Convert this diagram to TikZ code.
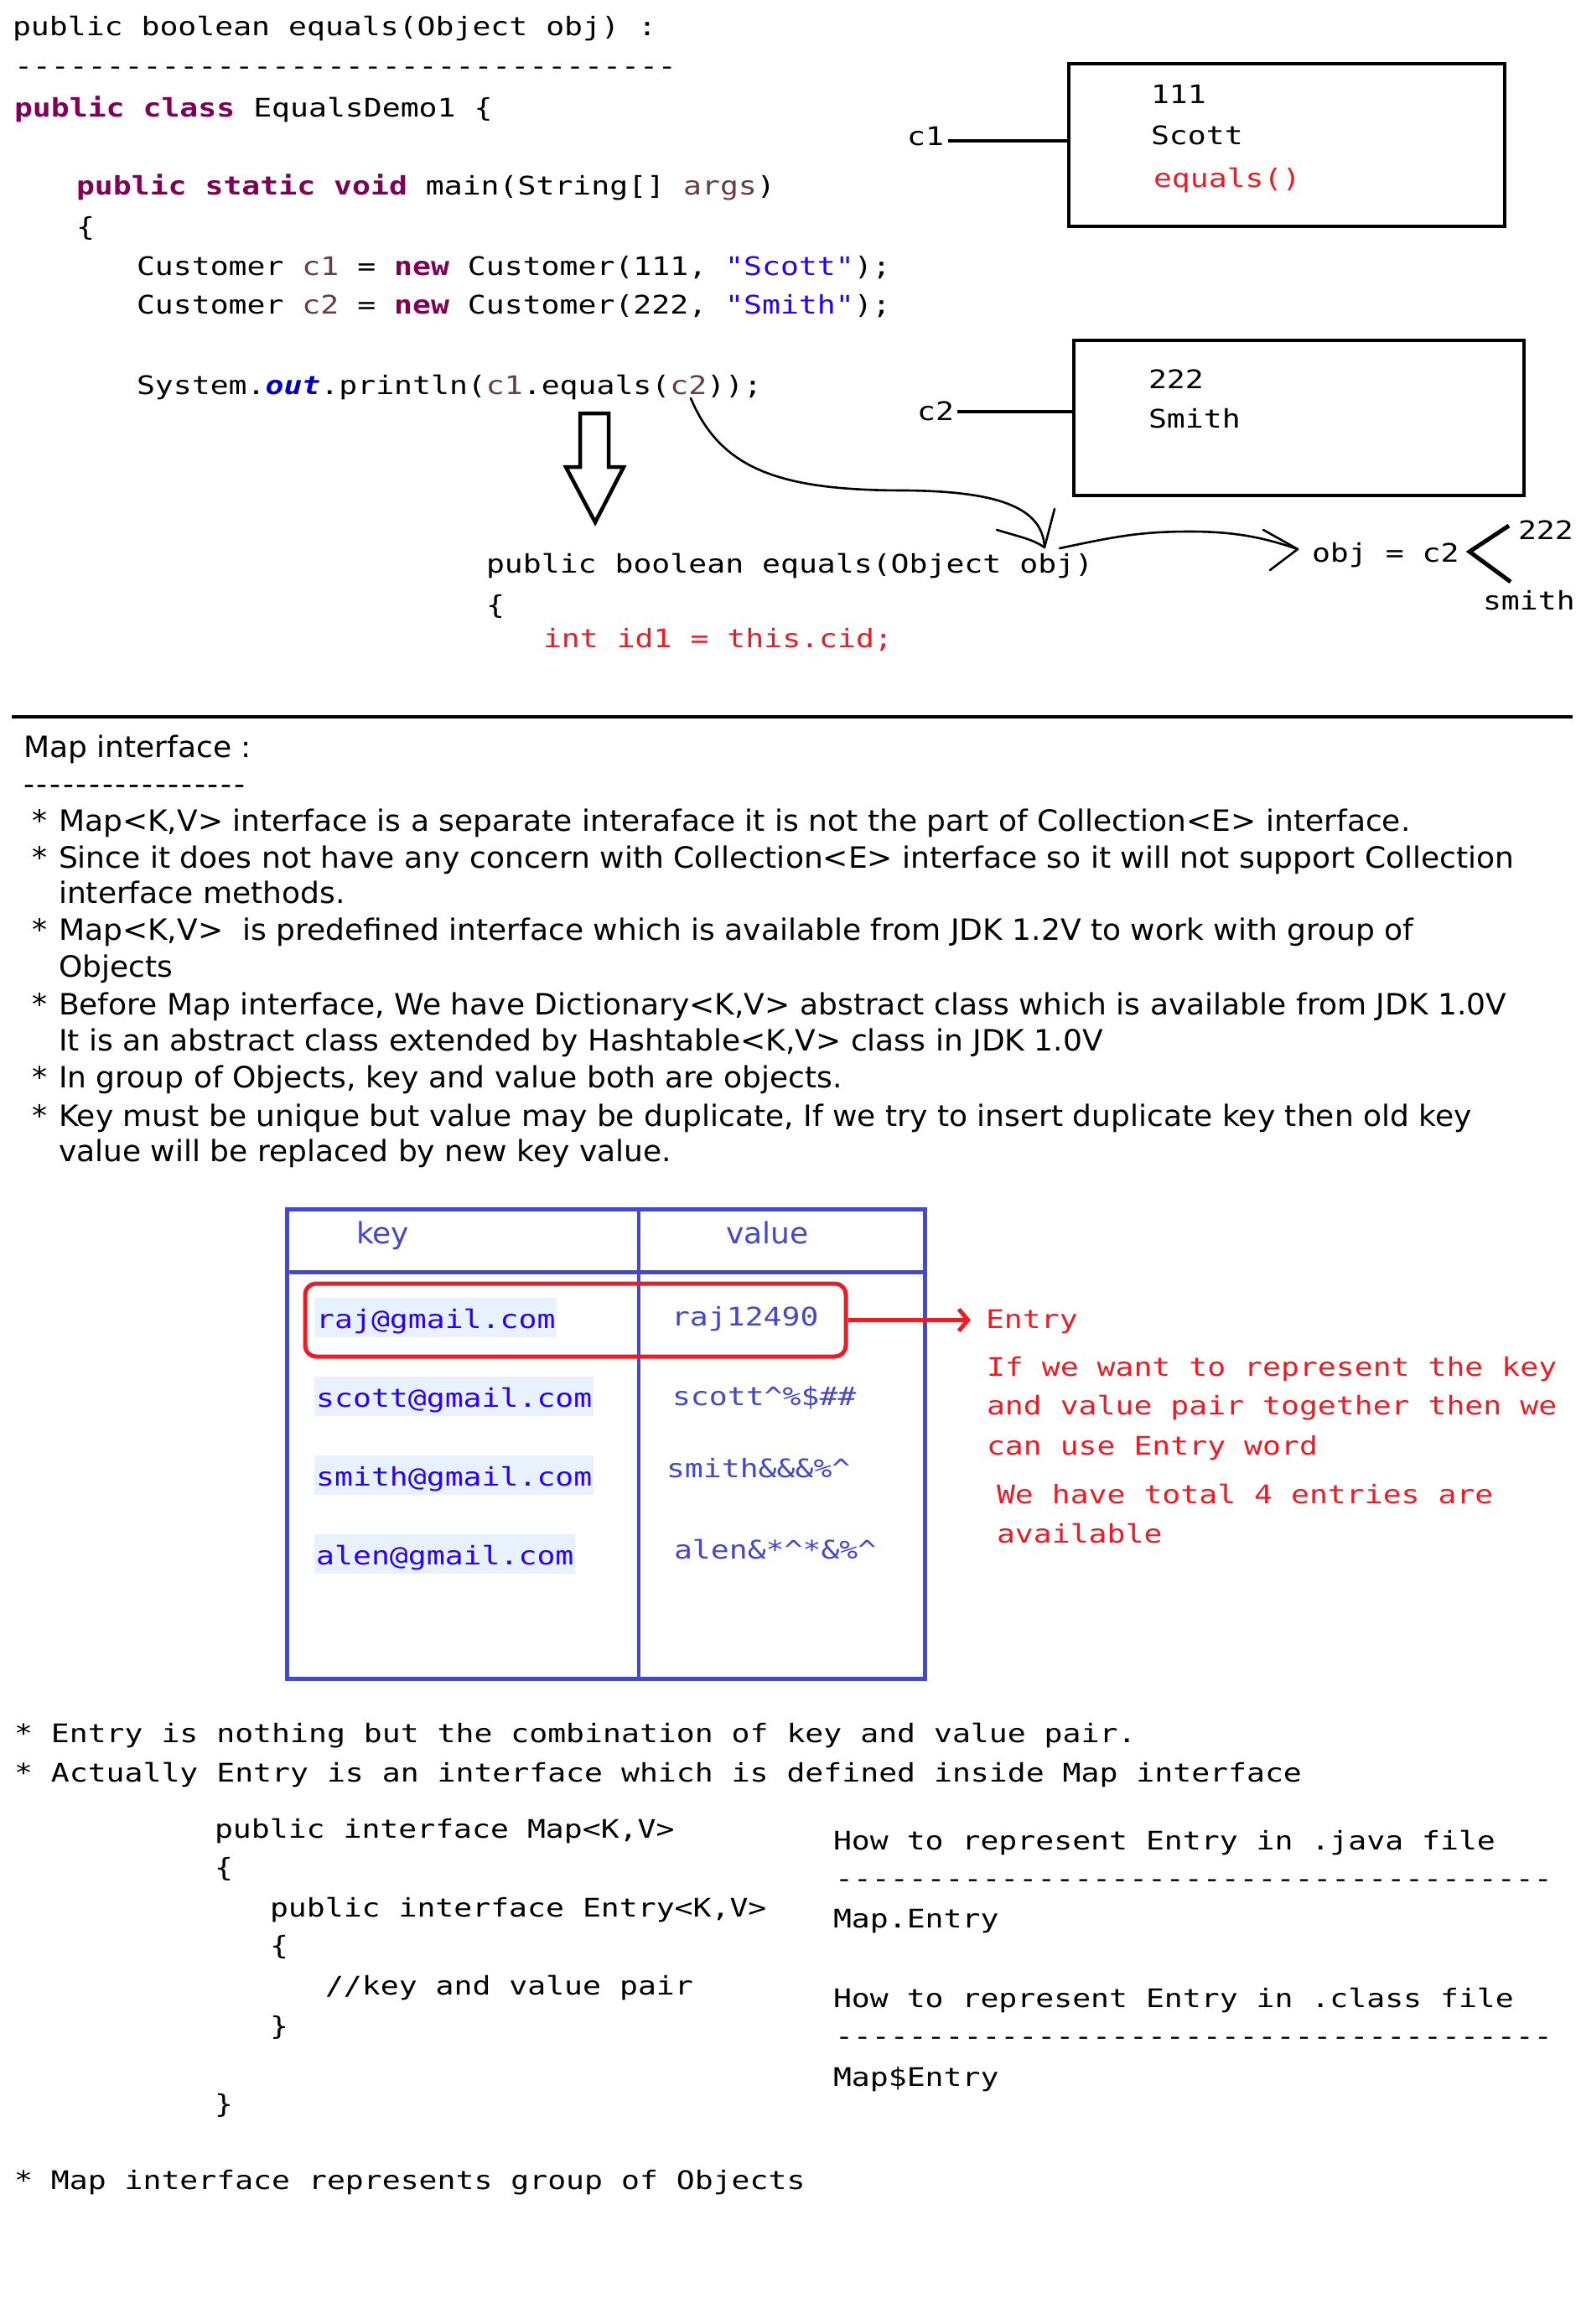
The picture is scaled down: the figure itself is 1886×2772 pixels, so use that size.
\documentclass[tikz,border=0pt]{standalone}
\usepackage{fontspec}
\usetikzlibrary{arrows.meta}
\newfontfamily\codefam{DejaVu Sans Mono}[Ligatures=TeXOff,FakeStretch=1.195]
\newfontfamily\mapfam{DejaVu Sans}[Ligatures=TeXOff,FakeStretch=1.03]
\definecolor{kwc}{HTML}{7F0055}
\definecolor{vrc}{HTML}{6A3E3E}
\definecolor{stc}{HTML}{2A00FF}
\definecolor{ouc}{HTML}{0000C0}
\definecolor{rdc}{RGB}{237,28,36}
\definecolor{tbc}{RGB}{68,72,204}
\definecolor{hlc}{HTML}{E8F2FE}
\newcommand\cfont{\codefam\fontsize{30.5}{40}\selectfont\frenchspacing}
\newcommand\mfont{\mapfam\fontsize{35}{44}\selectfont\frenchspacing}
\newcommand\kwd[1]{\textcolor{kwc}{\bfseries #1}}
\newcommand\vrb[1]{\textcolor{vrc}{#1}}
\newcommand\strg[1]{\textcolor{stc}{#1}}
\newcommand\mdashes[1]{\foreach\i in {1,...,#1}{-\kern0pt}}
\newcommand\sdashes[1]{\foreach\i in {1,...,#1}{-\kern2.7pt}}
\begin{document}
\begin{tikzpicture}[x=1pt,y=-1pt,
  code/.style={anchor=base west,inner sep=0pt,outer sep=0pt,font=\cfont},
  sans/.style={anchor=base west,inner sep=0pt,outer sep=0pt,font=\mfont},
  redcode/.style={code,text=rdc},
  objbox/.style={draw,line width=4.5pt,inner sep=0pt},
  keycell/.style={anchor=north west,fill=hlc,inner xsep=2pt,inner ysep=0pt,text height=36pt,text depth=11pt,text=stc,font=\cfont},
  valcell/.style={code,text=tbc},
  hand/.style={line width=2.6pt,line cap=round,line join=round},
  thickln/.style={line width=4.5pt}]
\fill[white] (0,0) rectangle (1886,2772);
\useasboundingbox (0,0) rectangle (1886,2772);

% ---------- top code ----------
\node[code] (t1) at (15,43) {public boolean equals(Object obj) :};
\node[code] (t2) at (17,90) {\mdashes{36}};
\node[code] (t3) at (17,140) {\kwd{public} \kwd{class} EqualsDemo1 \{};
\node[code] (t5) at (91,233) {\kwd{public} \kwd{static} \kwd{void} main(String[] \vrb{args})};
\node[code] (t6) at (91,282) {\{};
\node[code] (t7) at (163,328) {Customer \vrb{c1} = \kwd{new} Customer(111, \strg{"Scott"});};
\node[code] (t8) at (163,374) {Customer \vrb{c2} = \kwd{new} Customer(222, \strg{"Smith"});};
\node[code] (t10) at (163,470) {System.\textcolor{ouc}{\bfseries\itshape out}.println(\vrb{c1}.equals(\vrb{c2}));};

% ---------- objects ----------
\node[objbox,minimum width=520pt,minimum height=194pt] (box1) at (1535,173) {};
\node[code] (b1a) at (1373,124) {111};
\node[code] (b1b) at (1373,173) {Scott};
\node[redcode] (b1c) at (1376,224) {equals()};
\node[code,anchor=base east] (c1l) at (1126,174) {c1};
\draw[thickln] ([xshift=5pt,yshift=-5pt]c1l.east) -- ([yshift=-5pt]c1l.east -| box1.west);

\node[objbox,minimum width=537pt,minimum height=185pt] (box2) at (1549.5,498.5) {};
\node[code] (b2a) at (1370,463) {222};
\node[code] (b2b) at (1370,510) {Smith};
\node[code,anchor=base east] (c2l) at (1138,501) {c2};
\draw[thickln] ([xshift=4pt,yshift=-1pt]c2l.east) -- ([yshift=-1pt]c2l.east -| box2.west);

% ---------- hollow arrow ----------
\draw[line width=4.5pt,line join=miter] (692,493) -- (726,493) -- (726,557) -- (744,557) -- (710,623) -- (675,557) -- (692,557) -- cycle;

% ---------- called method ----------
\node[code] (m1) at (580,683) {public boolean equals(Object obj)};
\node[code] (m2) at (580,732) {\{};
\node[redcode] (m3) at (648,772) {int id1 = this.cid;};

% ---------- hand-drawn curves ----------
\coordinate (cva) at (824,475);
\coordinate (cvb) at (1246,653);
\draw[hand] (cva) .. controls (860,560) and (930,585) .. (1080,585)
  .. controls (1190,586) and (1244,605) .. (cvb);
\draw[hand] (1189,632) .. controls (1215,640) and (1232,643) .. (cvb) -- (1258,607);

\coordinate (cwa) at (1264,654);
\coordinate (cwb) at (1548,655);
\draw[hand] (cwa) .. controls (1330,640) and (1360,634) .. (1420,634)
  .. controls (1475,634) and (1510,642) .. (cwb);
\draw[hand] (1507,632) -- (cwb) -- (1515,680);

\node[code] (objeq) at (1565,670) {obj = c2};
\draw[line width=5pt] (1800,627) -- (1753,658) -- (1802,694);
\node[code] (v222) at (1811,643) {222};
\node[code] (vsmith) at (1769,727) {smith};

% ---------- separator ----------
\draw[line width=4.5pt] (14,855) -- (1876,855);

% ---------- Map interface ----------
\node[sans] (h1) at (28,903) {Map interface :};
\node[sans] (h2) at (28,947) {\sdashes{17}};
\foreach \yy in {991,1035,1121,1210,1297,1343}{\node[sans] at (38,\yy) {*};}
\node[sans] (p1) at (70,991) {Map<K,V> interface is a separate interaface it is not the part of Collection<E> interface.};
\node[sans] (p2) at (70,1035) {Since it does not have any concern with Collection<E> interface so it will not support Collection};
\node[sans] (p2b) at (70,1077) {interface methods.};
\node[sans] (p3) at (70,1121) {Map<K,V>\ \ is predefined interface which is available from JDK 1.2V to work with group of};
\node[sans] (p3b) at (70,1165) {Objects};
\node[sans] (p4) at (70,1210) {Before Map interface, We have Dictionary<K,V> abstract class which is available from JDK 1.0V};
\node[sans] (p4b) at (70,1253) {It is an abstract class extended by Hashtable<K,V> class in JDK 1.0V};
\node[sans] (p5) at (70,1297) {In group of Objects, key and value both are objects.};
\node[sans] (p6) at (70,1343) {Key must be unique but value may be duplicate, If we try to insert duplicate key then old key};
\node[sans] (p6b) at (70,1385) {value will be replaced by new key value.};

% ---------- table ----------
\draw[tbc,line width=5pt] (342,1442.5) rectangle (1103,2002);
\draw[tbc,line width=3.5pt] (762,1442.5) -- (762,2002);
\draw[tbc,line width=5pt,line cap=round] (347,1517) -- (1101,1517);
\node[sans,text=tbc] (hk) at (425,1483) {key};
\node[sans,text=tbc] (hv) at (866,1483) {value};

\node[keycell] (k1) at (375,1548) {raj@gmail.com};
\node[keycell] (k2) at (375,1642) {scott@gmail.com};
\node[keycell] (k3) at (375,1736) {smith@gmail.com};
\node[keycell] (k4) at (375,1830) {alen@gmail.com};
\node[valcell] (v1) at (801,1581) {raj12490};
\node[valcell] (v2) at (802,1676) {scott\textasciicircum\%\$\#\#};
\node[valcell] (v3) at (795,1762) {smith\&\&\&\%\textasciicircum};
\node[valcell] (v4) at (804,1859) {alen\&*\textasciicircum*\&\%\textasciicircum};

\node[draw=rdc,line width=5pt,rounded corners=13pt,minimum width=645pt,minimum height=87pt,inner sep=0pt] (entrybox) at (686.5,1574.5) {};
\node[redcode] (entrylbl) at (1176,1584) {Entry};
\draw[rdc,line width=5pt,-{Straight Barb[length=11pt,width=26pt]},shorten >=18pt] (entrybox.east) -- (entrybox.east -| entrylbl.west);
\node[redcode] (e1) at (1177,1641) {If we want to represent the key};
\node[redcode] (e2) at (1177,1687) {and value pair together then we};
\node[redcode] (e3) at (1177,1735) {can use Entry word};
\node[redcode] (e4) at (1189,1793) {We have total 4 entries are};
\node[redcode] (e5) at (1189,1840) {available};

% ---------- bottom code ----------
\node[code] (q1) at (17,2078) {* Entry is nothing but the combination of key and value pair.};
\node[code] (q2) at (17,2125) {* Actually Entry is an interface which is defined inside Map interface};
\node[code] (r1) at (256,2192) {public interface Map<K,V>};
\node[code] (r2) at (256,2238) {\{};
\node[code] (r3) at (322,2286) {public interface Entry<K,V>};
\node[code] (r4) at (322,2331) {\{};
\node[code] (r5) at (388,2379) {//key and value pair};
\node[code] (r6) at (322,2427) {\}};
\node[code] (r7) at (256,2520) {\}};
\node[code] (s1) at (994,2206) {How to represent Entry in .java file};
\node[code] (s2) at (996,2251) {\mdashes{39}};
\node[code] (s3) at (994,2299) {Map.Entry};
\node[code] (s4) at (994,2394) {How to represent Entry in .class file};
\node[code] (s5) at (996,2439) {\mdashes{39}};
\node[code] (s6) at (994,2488) {Map\$Entry};
\node[code] (q3) at (17,2611) {* Map interface represents group of Objects};
\end{tikzpicture}
\end{document}
